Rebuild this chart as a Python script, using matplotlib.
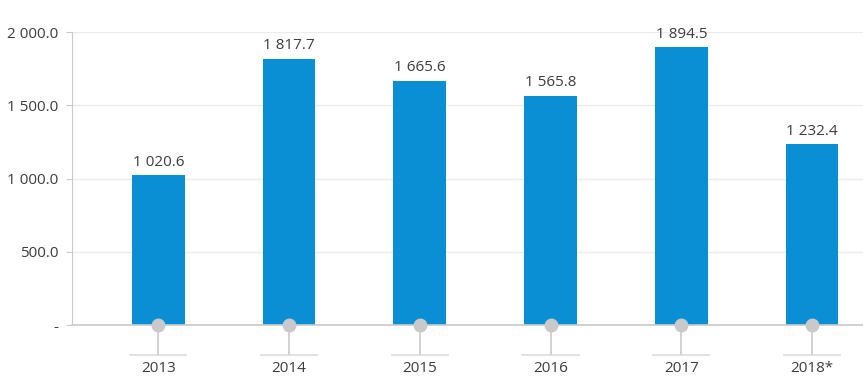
import matplotlib.pyplot as plt
from matplotlib import transforms

# Chart data
years = ['2013', '2014', '2015', '2016', '2017', '2018*']
values = [1020.6, 1817.7, 1665.6, 1565.8, 1894.5, 1232.4]
yticks = [0, 500, 1000, 1500, 2000]
ytick_labels = ['-', '500.0', '1 000.0', '1 500.0', '2 000.0']

bar_color = '#0a8fd4'
grey = '#c9c9c9'
text_color = '#3d3d3d'

plt.rcParams['font.family'] = ['Open Sans', 'DejaVu Sans']


def fmt(v):
    # space as thousands separator, one decimal
    return '{:,.1f}'.format(v).replace(',', ' ')


fig = plt.figure(figsize=(8.63, 3.83), dpi=100)
ax = fig.add_axes([0.0834, 0.1514, 0.9166, 0.765])

x = list(range(len(years)))
ax.bar(x, values, width=0.405, color=bar_color, zorder=2)

# Value labels above the bars
for xi, v in zip(x, values):
    ax.text(xi, v + 38, fmt(v), ha='center', va='bottom',
            fontsize=11, color=text_color)

ax.set_xlim(-0.66, 5.39)
ax.set_ylim(0, 2000)
ax.set_yticks(yticks)
ax.set_yticklabels(ytick_labels)
ax.set_xticks([])
ax.grid(axis='y', color='#ececec', linewidth=1, zorder=0)
ax.tick_params(axis='y', length=4, color=grey, labelsize=11,
               labelcolor=text_color, pad=6)

for side in ['top', 'right']:
    ax.spines[side].set_visible(False)
ax.spines['left'].set_color(grey)
ax.spines['bottom'].set_color(grey)
ax.spines['bottom'].set_linewidth(1.2)

# Category markers hanging below the axis
trans = transforms.blended_transform_factory(ax.transData, ax.transAxes)
for xi, lab in zip(x, years):
    ax.plot([xi, xi], [0, -0.103], color=grey, linewidth=1.2,
            transform=trans, clip_on=False, zorder=3)
    ax.plot([xi - 0.215, xi + 0.215], [-0.103, -0.103], color='#dcdcdc',
            linewidth=1.2, transform=trans, clip_on=False, zorder=3)
    ax.plot([xi], [0], marker='o', markersize=9, color=grey,
            transform=trans, clip_on=False, zorder=4)
    ax.text(xi, -0.148, lab, ha='center', va='center', fontsize=11,
            color=text_color, transform=trans)

plt.savefig('out.png', dpi=100)
plt.close(fig)
